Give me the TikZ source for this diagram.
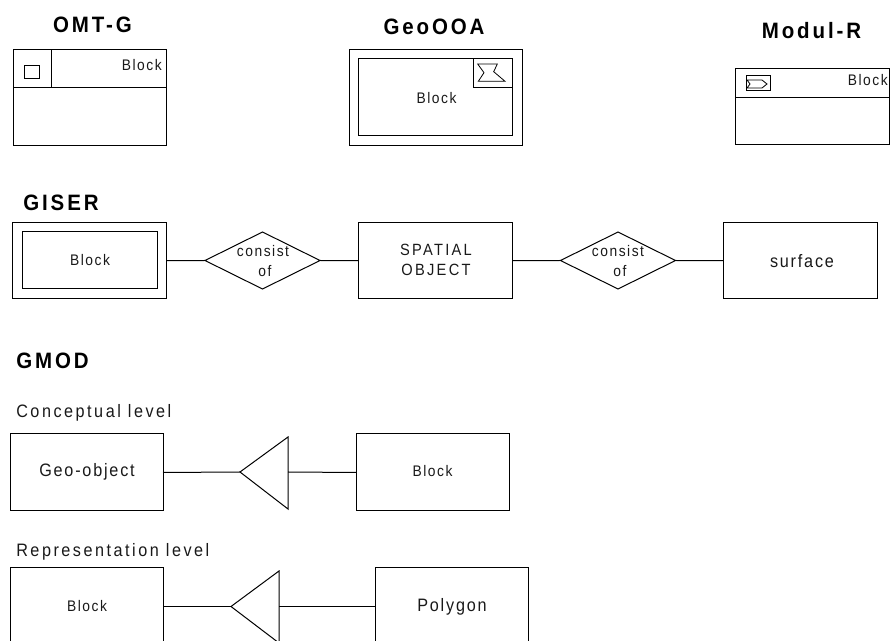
\documentclass[tikz,border=0pt]{standalone}
\usepackage{fontspec}
\setmainfont{Liberation Sans}
\newfontfamily\lblfont[LetterSpace=10,FakeStretch=0.9]{Liberation Sans}
\newfontfamily\lvlfont[LetterSpace=14,FakeStretch=0.9]{Liberation Sans}
\newfontfamily\ttlfont[LetterSpace=13,FakeStretch=0.92]{Liberation Sans}
\usetikzlibrary{shapes.geometric}
\tikzset{
  ln/.style={line width=0.75pt,draw=black},
  bx/.style 2 args={ln,rectangle,inner sep=0pt,outer sep=0pt,minimum width=#1*0.75pt,minimum height=#2*0.75pt},
  rel/.style={ln,diamond,aspect=2,inner sep=0pt,outer sep=0pt,minimum width=115*0.75pt,minimum height=57*0.75pt},
  lbl/.style={inner sep=0pt,font=\lblfont\fontsize{11.5pt}{13pt}\selectfont,text=black!90},
  capsl/.style={inner sep=0pt,font=\lvlfont\fontsize{12.2pt}{14pt}\selectfont,text=black!90},
  big/.style={inner sep=0pt,font=\lblfont\fontsize{13.5pt}{15pt}\selectfont,text=black!90},
  lvl/.style={inner sep=0pt,font=\lvlfont\fontsize{13.5pt}{15pt}\selectfont,text=black!90},
  ttl/.style={inner sep=0pt,font=\ttlfont\bfseries\fontsize{16.7pt}{18pt}\selectfont},
  tri/.style={ln,line join=miter}
}
\begin{document}
\begin{tikzpicture}[x=0.75pt,y=-0.75pt]
\path[clip] (0,0) rectangle (890,641);
% OMT-G
\node[ttl] (t1) at (92.5,25) {OMT-G};
\node[bx={153}{96}] (om) at (89.5,97.5) {};
\node[bx={38.5}{38.5},anchor=north west] (omh) at (om.north west) {};
\coordinate (omd) at (13,88);
\draw[ln] (omd) -- (om.east |- omd);
\node[bx={14.5}{13.5}] (oms) at (32.2,71.8) {};
\node[lbl,anchor=east] (omb) at (162,65) {Block};
% GeoOOA
\node[ttl] (t2) at (434,27) {GeoOOA};
\node[bx={173}{95.5}] (ge) at (435.5,97.3) {};
\node[bx={154}{77}] (gi) at (435,97.5) {};
\node[bx={39}{29},anchor=north east] (gf) at (gi.north east) {};
\draw[ln,line width=0.6pt] (477.7,64) -- (497.3,64) -- (493.7,71.7) -- (505,81.3) -- (478.3,81.3) -- (484,72.7) -- cycle;
\node[lbl] (gb) at (436.5,98) {Block};
% Modul-R
\node[ttl] (t3) at (811.5,31) {Modul-R};
\node[bx={153.5}{76}] (mo) at (812.7,107) {};
\coordinate (mod) at (736,98);
\draw[ln] (mod) -- (mo.east |- mod);
\node[bx={24}{15.5}] (mos) at (758,83.2) {};
\draw[ln,line width=0.6pt] (747,80) -- (762,80) -- (767,84) -- (762,88) -- (747,88) -- (750,84) -- cycle;
\node[lbl,anchor=east] (mob) at (888,80) {Block};
% GISER
\node[ttl] (t4) at (61,203) {GISER};
\node[bx={153.5}{76.5}] (gs) at (89.7,260.7) {};
\node[bx={135}{57}] (gsi) at (90,260.5) {};
\node[lbl] (gsb) at (90,260.5) {Block};
\node[rel] (d1) at (262.5,260.5) {};
\node[lbl] (d1a) at (263,251) {consist};
\node[lbl] (d1b) at (265,271) {of};
\node[bx={154}{76.5}] (sp) at (435,260.7) {};
\node[capsl] (spa) at (436,250) {SPATIAL};
\node[capsl] (spb) at (436,270) {OBJECT};
\node[rel] (d2) at (618,260.5) {};
\node[lbl] (d2a) at (618,251) {consist};
\node[lbl] (d2b) at (620,271) {of};
\node[bx={154}{76.5}] (su) at (800.5,260.7) {};
\node[big] (sub) at (802,261) {surface};
% connectors
\draw[ln] (gs.east) -- (d1.west);
\draw[ln] (d1.east) -- (sp.west);
\draw[ln] (sp.east) -- (d2.west);
\draw[ln] (d2.east) -- (su.west);
% GMOD
\node[ttl] (t5) at (52.5,361) {GMOD};
\node[lvl,anchor=west] (cl) at (16,413) {Conceptual level};
\node[bx={153}{77}] (go) at (86.5,472.5) {};
\node[big] (gob) at (87,472) {Geo-object};
\coordinate (a1) at (240,472);
\coordinate (r1) at (288,472);
\draw[tri] (a1) -- (288,437) -- (288,509) -- cycle;
\node[bx={153}{77}] (b1) at (432.5,472.5) {};
\node[lbl] (b1b) at (432.5,471.5) {Block};
\draw[ln] (go.east) -- (a1);
\draw[ln] (r1) -- (b1.west);
\node[lvl,anchor=west] (rl) at (16,552) {Representation level};
\node[bx={153}{77}] (bl) at (86.5,606.5) {};
\node[lbl] (blb) at (87,606) {Block};
\coordinate (a2) at (231,606.5);
\coordinate (r2) at (279,606.5);
\draw[tri] (a2) -- (279,571) -- (279,643) -- cycle;
\node[bx={153}{77}] (po) at (451.5,606.5) {};
\node[big] (pob) at (452,607) {Polygon};
\draw[ln] (bl.east) -- (a2);
\draw[ln] (r2) -- (po.west);
\end{tikzpicture}
\end{document}
